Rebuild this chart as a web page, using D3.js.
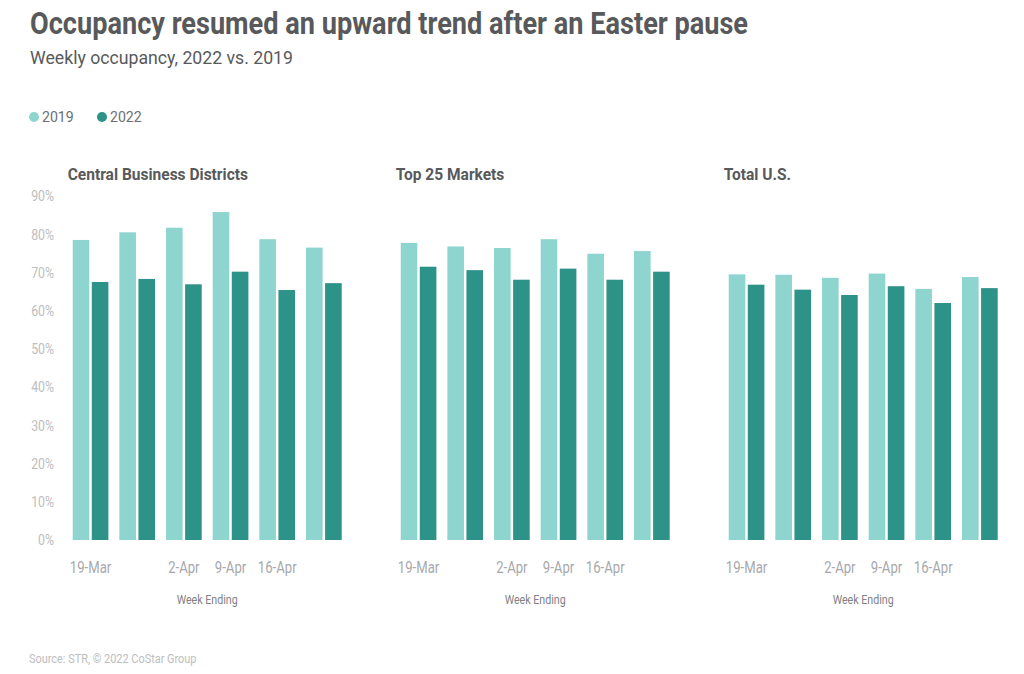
<!DOCTYPE html>
<html>
<head>
<meta charset="utf-8">
<script src="https://cdn.jsdelivr.net/npm/d3@7"></script>
<style>
  html, body { margin: 0; padding: 0; background: #fff; }
  svg { display: block; font-family: Roboto, "Noto Sans", sans-serif; }
</style>
</head>
<body>
<svg id="chart" width="1024" height="674"></svg>
<script>
// ---- data ----
const weeks = ["19-Mar", "26-Mar", "2-Apr", "9-Apr", "16-Apr", "23-Apr"];
const weekLabels = ["19-Mar", "", "2-Apr", "9-Apr", "16-Apr", ""];
const seriesNames = ["2019", "2022"];
const panels = ["Central Business Districts", "Top 25 Markets", "Total U.S."];
const cbd2019 = [78.5, 80.5, 81.7, 85.8, 78.7, 76.5];
const cbd2022 = [67.5, 68.3, 66.9, 70.2, 65.4, 67.2];
const top2019 = [77.7, 76.8, 76.4, 78.7, 74.9, 75.6];
const top2022 = [71.5, 70.6, 68.1, 71.0, 68.1, 70.2];
const us2019  = [69.5, 69.4, 68.6, 69.7, 65.7, 68.8];
const us2022  = [66.8, 65.5, 64.1, 66.4, 62.0, 65.9];
const yTicks = [0, 10, 20, 30, 40, 50, 60, 70, 80, 90];
const panelData = [[cbd2019, cbd2022], [top2019, top2022], [us2019, us2022]];

// ---- style / layout ----
const colors = { "2019": "#8fd5cf", "2022": "#2d9287" };
const svg = d3.select("#chart");
const K = 0.82; // condensed look
function condense(sel, k = K) {
  sel.each(function () {
    const w = this.getComputedTextLength();
    this.setAttribute("textLength", w * k);
    this.setAttribute("lengthAdjust", "spacingAndGlyphs");
  });
}

// Title & subtitle
svg.append("text").attr("x", 30).attr("y", 34)
  .attr("font-size", 32).attr("font-weight", 700).attr("fill", "#58595b")
  .attr("textLength", 718).attr("lengthAdjust", "spacingAndGlyphs")
  .text("Occupancy resumed an upward trend after an Easter pause");
svg.append("text").attr("x", 30).attr("y", 64)
  .attr("font-size", 18.5).attr("fill", "#58595b")
  .attr("textLength", 263).attr("lengthAdjust", "spacingAndGlyphs")
  .text("Weekly occupancy, 2022 vs. 2019");

// Legend
const legend = svg.append("g");
const legX = [34, 102];
seriesNames.forEach((s, i) => {
  legend.append("circle").attr("cx", legX[i]).attr("cy", 117).attr("r", 5).attr("fill", colors[s]);
  legend.append("text").attr("x", legX[i] + 8).attr("y", 122)
    .attr("font-size", 15).attr("fill", "#6d6e71").text(s).call(condense, 0.94);
});

// Scales
const y = d3.scaleLinear().domain([0, 90]).range([540, 196]);
const panelOffset = 328;
const x0Base = [72.7, 341.7];

panels.forEach((name, p) => {
  const off = p * panelOffset;
  const g = svg.append("g");
  const x0 = d3.scaleBand().domain(weeks).range([x0Base[0] + off, x0Base[1] + off])
    .paddingInner(0.235).paddingOuter(0);
  const x1 = d3.scaleBand().domain(seriesNames).range([0, x0.bandwidth()]).paddingInner(0.13);

  // panel title
  g.append("text").attr("x", x0Base[0] - 5 + off).attr("y", 180)
    .attr("font-size", 16).attr("font-weight", 700).attr("fill", "#58595b")
    .text(name).call(condense, 0.97);

  // bars
  seriesNames.forEach((s, si) => {
    const vals = panelData[p][si];
    g.selectAll(null).data(weeks).join("rect")
      .attr("x", d => x0(d) + x1(s))
      .attr("width", x1.bandwidth())
      .attr("y", (d, i) => y(vals[i]))
      .attr("height", (d, i) => y(0) - y(vals[i]))
      .attr("fill", colors[s]);
  });

  // x axis labels
  const xAxis = d3.axisBottom(x0).tickSize(0).tickPadding(0)
    .tickFormat((d, i) => weekLabels[i]);
  const ax = g.append("g").attr("transform", "translate(0,562)").call(xAxis);
  ax.select(".domain").remove();
  ax.selectAll("text").attr("font-size", 16).attr("fill", "#a7a9ac")
    .attr("font-family", "Roboto, sans-serif").attr("dy", "0.71em").call(condense);

  // axis title
  g.append("text").attr("x", (x0Base[0] + x0Base[1]) / 2 + off).attr("y", 604)
    .attr("text-anchor", "middle").attr("font-size", 13).attr("fill", "#808285")
    .text("Week Ending").call(condense);

  // y axis only on first panel
  if (p === 0) {
    const yAxis = d3.axisLeft(y).tickValues(yTicks).tickSize(0).tickPadding(0)
      .tickFormat(d => d + "%");
    const ay = g.append("g").attr("transform", "translate(54,0)").call(yAxis);
    ay.select(".domain").remove();
    ay.selectAll("text").attr("font-size", 15).attr("fill", "#bcbec0")
      .attr("font-family", "Roboto, sans-serif").call(condense);
  }
});

// Source
svg.append("text").attr("x", 29).attr("y", 663)
  .attr("font-size", 12).attr("fill", "#bcbec0")
  .text("Source: STR, © 2022 CoStar Group").call(condense, 0.91);
</script>
</body>
</html>
